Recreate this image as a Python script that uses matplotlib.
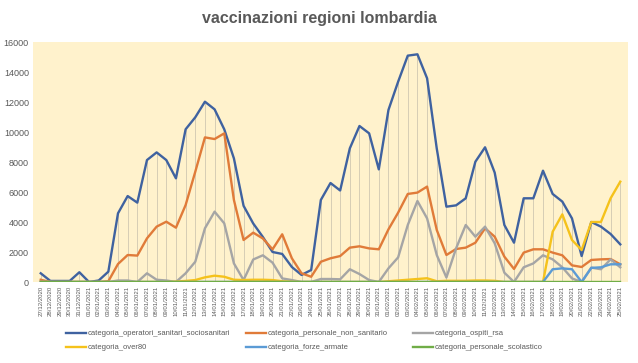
import matplotlib
matplotlib.use("Agg")
import matplotlib.pyplot as plt
import numpy as np
import datetime as dt

dates = [(dt.date(2020, 12, 27) + dt.timedelta(days=i)).strftime("%d/%m/%Y") for i in range(61)]

operatori = [580, 70, 70, 70, 650, 0, 100, 690, 4580, 5730, 5290, 8130, 8640, 8130, 6910, 10180,
             10980, 12020, 11510, 10180, 8240, 5080, 3900, 3000, 2000, 1870, 1000, 470, 800, 5470,
             6600, 6100, 8910, 10400, 9910, 7510, 11470, 13350, 15090, 15180, 13580, 8900, 5020,
             5110, 5580, 8020, 8980, 7290, 3800, 2620, 5580, 5580, 7420, 5870, 5360, 4240, 1730,
             4000, 3690, 3200, 2510]
personale = [150, 0, 0, 0, 0, 0, 0, 50, 1200, 1800, 1760, 2910, 3690, 4020, 3620, 5130,
             7350, 9640, 9530, 9910, 5470, 2800, 3290, 2900, 2180, 3180, 1580, 580, 350, 1350,
             1580, 1730, 2290, 2380, 2240, 2180, 3510, 4620, 5870, 5960, 6360, 3470, 1800,
             2200, 2290, 2620, 3580, 3020, 1690, 870, 1960, 2180, 2180, 1960, 1780, 1110, 1000,
             1470, 1510, 1530, 1180]
ospiti = [0, 0, 0, 0, 0, 0, 0, 0, 100, 100, 0, 580, 150, 100, 0, 580,
          1350, 3580, 4690, 3910, 1240, 130, 1500, 1780, 1290, 240, 130, 0, 0, 200,
          200, 180, 850, 530, 130, 0, 910, 1640, 3800, 5400, 4240, 1800, 300,
          2240, 3800, 3020, 3690, 2580, 620, 0, 980, 1240, 1780, 1510, 980, 240, 0,
          960, 850, 1510, 980]
over80 = [0, 0, 0, 0, 0, 0, 0, 0, 0, 0, 0, 0, 0, 0, 30, 70,
          130, 310, 420, 350, 150, 130, 150, 150, 130, 50, 20, 0, 0, 0,
          0, 0, 0, 0, 0, 0, 50, 100, 150, 200, 250, 50, 80,
          80, 80, 100, 100, 80, 0, 0, 0, 0, 0, 3350, 4510, 2800, 2130,
          4000, 4000, 5580, 6690]
forze = [0] * 53 + [850, 910, 850, 0, 940, 980, 1180, 1180]
scolastico = [0] * 61

series = [
    ("categoria_operatori_sanitari_sociosanitari", operatori, "#3F62A0"),
    ("categoria_personale_non_sanitario", personale, "#E07B39"),
    ("categoria_ospiti_rsa", ospiti, "#A5A5A5"),
    ("categoria_over80", over80, "#F5C21B"),
    ("categoria_forze_armate", forze, "#5B9BD5"),
    ("categoria_personale_scolastico", scolastico, "#70AD47"),
]

plt.rcParams['font.family'] = ['Liberation Sans', 'DejaVu Sans']

fig = plt.figure(figsize=(6.38, 3.63), dpi=100)
fig.patch.set_facecolor("white")
ax = fig.add_axes([33 / 638, 1 - 282 / 363, 595 / 638, 240 / 363])
ax.set_facecolor("#FFF2CC")

x = np.arange(len(dates))
top = np.max(np.array([s[1] for s in series]), axis=0)
ax.vlines(x, 0, top, color="#D6CDB5", linewidth=0.7, zorder=1)

lines = {}
for name, vals, col in series:
    ln, = ax.plot(x, vals, color=col, linewidth=1.7, label=name, zorder=3)
    lines[name] = ln

ax.set_xlim(-0.8, len(dates) - 0.2)
ax.set_ylim(0, 16000)
ax.set_yticks(np.arange(0, 16001, 2000))
ax.set_yticklabels([str(v) for v in range(0, 16001, 2000)], fontsize=6.5, color="#595959")
ax.set_xticks(x)
ax.set_xticklabels(dates, rotation=90, fontsize=4.3, color="#595959")
ax.tick_params(length=0, pad=3)
for sp in ax.spines.values():
    sp.set_visible(False)

fig.text(0.5, 1 - 18 / 363, "vaccinazioni regioni lombardia", ha="center", va="center",
         fontsize=11.5, fontweight="bold", color="#595959")

cols = [(0, 3, 66), (1, 4, 246), (2, 5, 413)]
for a, b, xpix in cols:
    hs = [lines[series[a][0]], lines[series[b][0]]]
    ls = [series[a][0], series[b][0]]
    fig.legend(hs, ls, loc="upper left", bbox_to_anchor=(xpix / 638, 1 - 330 / 363),
               frameon=False, fontsize=5.5, handlelength=2.6, handletextpad=0.2,
               labelspacing=0.85, labelcolor="#595959", borderaxespad=0, borderpad=0)

fig.savefig("out.png", dpi=100)
